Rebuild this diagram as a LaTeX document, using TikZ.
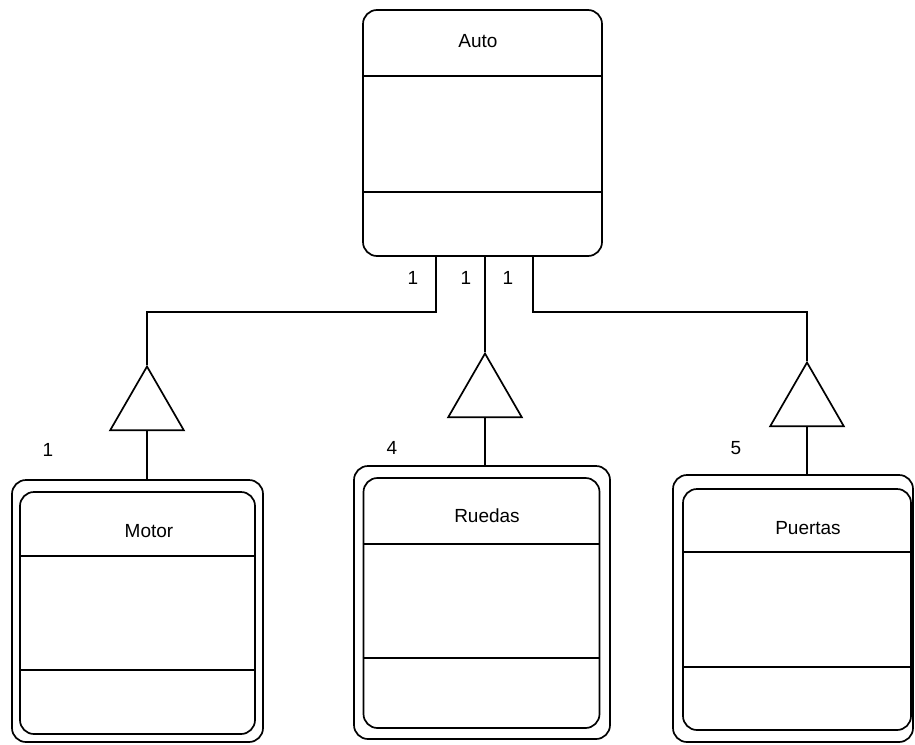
\documentclass[tikz,border=0pt]{standalone}
\usepackage{fontspec}
\setmainfont{Liberation Sans}
\usetikzlibrary{shapes.geometric}

\tikzset{
  classbox/.style={draw, line width=1.7pt, rounded corners=14pt, inner sep=0pt},
  heading/.style={font=\fontsize{19}{22}\selectfont, inner sep=0pt},
  mult/.style={font=\fontsize{19}{22}\selectfont, inner sep=0pt},
  wire/.style={line width=1.7pt},
  aggtri/.style={draw, line width=1.7pt, regular polygon, regular polygon sides=3,
                 minimum size=85pt, inner sep=0pt},
}

\begin{document}
\begin{tikzpicture}[x=1pt, y=-1pt]
  \useasboundingbox (0,0) rectangle (915,744);

  % Auto class
  \node[classbox, minimum width=239pt, minimum height=246pt] (auto) at (482.5,133) {};
  \draw[wire] ([yshift=-67pt]auto.north west) -- ([yshift=-67pt]auto.north east);
  \draw[wire] ([yshift=-183pt]auto.north west) -- ([yshift=-183pt]auto.north east);
  \node[heading] (autoname) at (478,41) {Auto};

  % Motor class (double frame)
  \node[classbox, minimum width=251pt, minimum height=262pt] (motorout) at (137.5,611) {};
  \node[classbox, minimum width=235pt, minimum height=242pt] (motor) at (137.5,613) {};
  \draw[wire] ([yshift=-65pt]motor.north west) -- ([yshift=-65pt]motor.north east);
  \draw[wire] ([yshift=-179pt]motor.north west) -- ([yshift=-179pt]motor.north east);
  \node[heading] (motorname) at (149,531) {Motor};

  % Ruedas class (double frame)
  \node[classbox, minimum width=256pt, minimum height=273pt] (ruedasout) at (482,602.5) {};
  \node[classbox, minimum width=236pt, minimum height=250pt] (ruedas) at (481.5,603) {};
  \draw[wire] ([yshift=-67pt]ruedas.north west) -- ([yshift=-67pt]ruedas.north east);
  \draw[wire] ([yshift=-181pt]ruedas.north west) -- ([yshift=-181pt]ruedas.north east);
  \node[heading] (ruedasname) at (487,516) {Ruedas};

  % Puertas class (double frame)
  \node[classbox, minimum width=240pt, minimum height=267pt] (puertasout) at (793,608.5) {};
  \node[classbox, minimum width=228pt, minimum height=241pt] (puertas) at (797,609.5) {};
  \draw[wire] ([yshift=-64pt]puertas.north west) -- ([yshift=-64pt]puertas.north east);
  \draw[wire] ([yshift=-179pt]puertas.north west) -- ([yshift=-179pt]puertas.north east);
  \node[heading] (puertasname) at (808,528) {Puertas};

  % Aggregation triangles
  \node[aggtri] (t1) at (147,409) {};
  \node[aggtri] (t2) at (485,396) {};
  \node[aggtri] (t3) at (807,405) {};

  % Junction points below Auto
  \coordinate (j1) at (436,312);
  \coordinate (j3) at (533,312);

  % Connectors
  \draw[wire] (auto.south -| j1) -- (j1) -- (j1 -| t1.north) -- (t1.north);
  \draw[wire] (auto.south -| t2.north) -- (t2.north);
  \draw[wire] (auto.south -| j3) -- (j3) -- (j3 -| t3.north) -- (t3.north);
  \draw[wire] (t1.south) -- (motorout.north -| t1.south);
  \draw[wire] (t2.south) -- (ruedasout.north -| t2.south);
  \draw[wire] (t3.south) -- (puertasout.north -| t3.south);

  % Multiplicities
  \node[mult] (m1) at (413,278) {1};
  \node[mult] (m2) at (466,278) {1};
  \node[mult] (m3) at (508,278) {1};
  \node[mult] (n1) at (48,450) {1};
  \node[mult] (n2) at (392,448) {4};
  \node[mult] (n3) at (736,448) {5};
\end{tikzpicture}
\end{document}
